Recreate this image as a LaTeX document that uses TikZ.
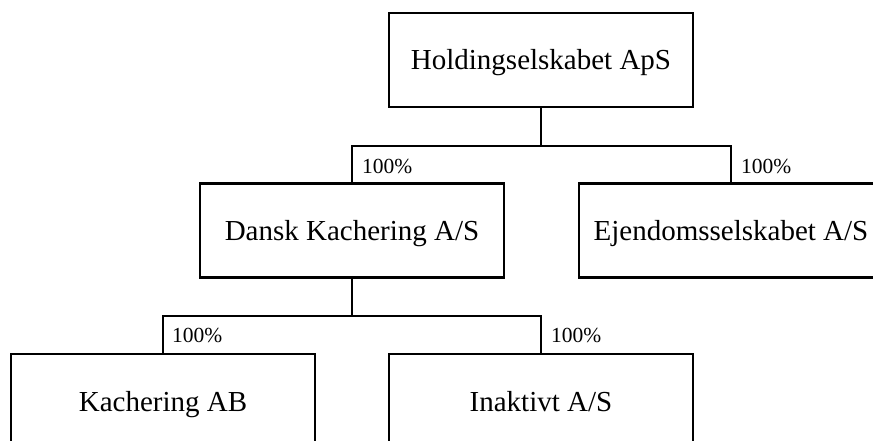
\documentclass[tikz,border=0pt]{standalone}
\usepackage{fontspec}
\setmainfont{Liberation Serif}
\begin{document}
\begin{tikzpicture}[x=1pt,y=-1pt,
  orgbox/.style={draw=black, line width=2.4pt, minimum width=304pt, minimum height=94pt, inner sep=0pt, text height=22pt, text depth=2pt, font=\fontsize{29}{34}\selectfont},
  pct/.style={anchor=base west, inner sep=0pt, font=\fontsize{21.5}{25}\selectfont},
  conn/.style={draw=black, line width=2.4pt, line join=miter}]
\useasboundingbox[fill=white] (0,0) rectangle (873,441);
\node[orgbox] (hold) at (541,60) {Holdingselskabet ApS};
\node[orgbox] (dansk) at (352,230.5) {Dansk Kachering A/S};
\node[orgbox] (ejend) at (731,230.5) {Ejendomsselskabet A/S};
\node[orgbox] (kab) at (163,401) {Kachering AB};
\node[orgbox] (inak) at (541,401) {Inaktivt A/S};
\coordinate (j1) at (541,146);
\coordinate (j2) at (352,316);
\draw[conn] (hold.south) -- (j1);
\draw[conn] (dansk.north) |- (j1) -| (ejend.north);
\draw[conn] (dansk.south) -- (j2);
\draw[conn] (kab.north) |- (j2) -| (inak.north);
\node[pct] (p1) at (362,173) {100\%};
\node[pct] (p2) at (741,173) {100\%};
\node[pct] (p3) at (172,342) {100\%};
\node[pct] (p4) at (551,342) {100\%};
\end{tikzpicture}
\end{document}
